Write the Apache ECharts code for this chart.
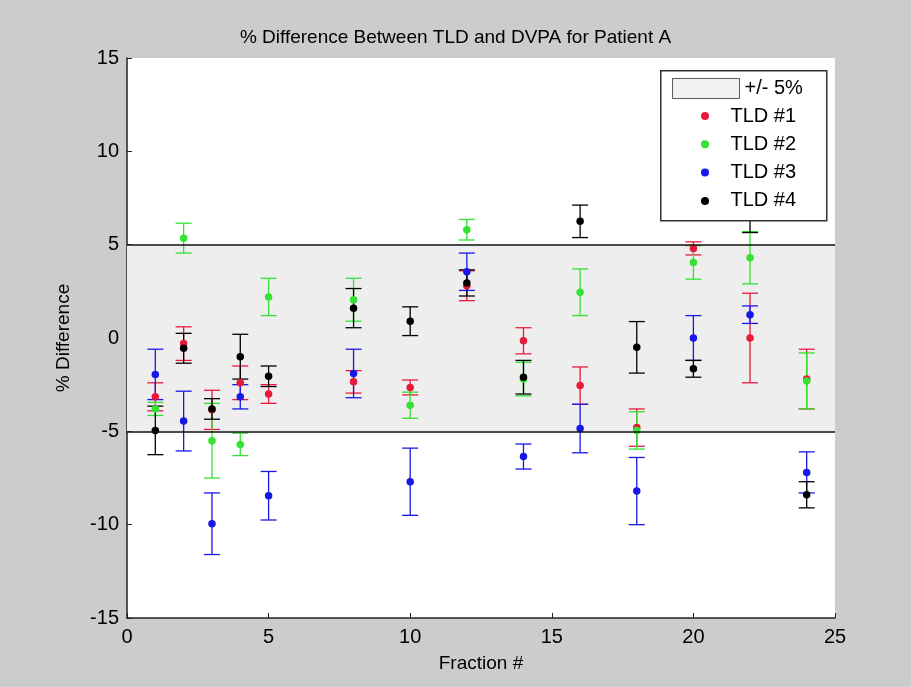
<!DOCTYPE html>
<html>
<head>
<meta charset="utf-8">
<script src="https://cdn.jsdelivr.net/npm/echarts@6/dist/echarts.min.js"></script>
</head>
<body style="margin:0">
<div id="container" style="width:911px;height:687px"></div>
<script type="text/javascript">
// fractions where the four TLDs were read
var fractions = [1, 2, 3, 4, 5, 8, 10, 12, 14, 16, 18, 20, 22, 24];

var tld1 = [-3.15, -0.3, -3.85, -2.4, -3.0, -2.35, -2.65, 2.8, -0.15, -2.55, -4.8, 4.8, 0.0, -2.2];
var tld1Err = [0.75, 0.9, 1.05, 0.9, 0.5, 0.6, 0.4, 0.8, 0.7, 1.0, 1.0, 0.35, 2.4, 1.6];

var tld2 = [-3.8, 5.35, -5.5, -5.7, 2.2, 2.05, -3.6, 5.8, -2.2, 2.45, -4.95, 4.05, 4.3, -2.3];
var tld2Err = [0.35, 0.8, 2.0, 0.6, 1.0, 1.15, 0.7, 0.55, 0.9, 1.25, 1.0, 0.9, 1.4, 1.5];

var tld3 = [-1.95, -4.45, -9.95, -3.15, -8.45, -1.9, -7.7, 3.55, -6.35, -4.85, -8.2, 0.0, 1.25, -7.2];
var tld3Err = [1.35, 1.6, 1.65, 0.65, 1.3, 1.3, 1.8, 1.0, 0.67, 1.3, 1.8, 1.2, 0.47, 1.1];

var tld4 = [-4.95, -0.55, -3.8, -1.0, -2.05, 1.6, 0.9, 2.95, -2.1, 6.25, -0.5, -1.65, 6.6, -8.4];
var tld4Err = [1.3, 0.8, 0.55, 1.2, 0.55, 1.05, 0.77, 0.7, 0.9, 0.87, 1.38, 0.45, 0.95, 0.7];

var bandLimits = [-5, 5];
var xTicks = [0, 25, 5];
var yTicks = [-15, 15, 5];

var names = ['TLD #1', 'TLD #2', 'TLD #3', 'TLD #4'];
var colors = ['#e81a3c', '#33e233', '#1717e6', '#000000'];
var values = [tld1, tld2, tld3, tld4];
var errs = [tld1Err, tld2Err, tld3Err, tld4Err];

var font = 'Liberation Sans, Arial, sans-serif';

function renderErr(params, api) {
	var x = api.value(0);
	var lo = api.coord([x, api.value(1)]);
	var hi = api.coord([x, api.value(2)]);
	var w = 8;
	var style = { stroke: api.visual('color'), lineWidth: 1.3 };
	return {
		type: 'group',
		children: [
			{ type: 'line', shape: { x1: lo[0], y1: lo[1], x2: hi[0], y2: hi[1] }, style: style },
			{ type: 'line', shape: { x1: lo[0] - w, y1: lo[1], x2: lo[0] + w, y2: lo[1] }, style: style },
			{ type: 'line', shape: { x1: hi[0] - w, y1: hi[1], x2: hi[0] + w, y2: hi[1] }, style: style }
		]
	};
}

var series = [{
	name: '+/- 5%',
	type: 'scatter',
	data: [],
	symbolSize: 0,
	itemStyle: { color: '#eeeeee', borderColor: '#333', borderWidth: 1 },
	markArea: {
		silent: true,
		label: { show: false },
		itemStyle: { color: '#eeeeee' },
		data: [[{ yAxis: bandLimits[0] }, { yAxis: bandLimits[1] }]]
	},
	markLine: {
		silent: true,
		symbol: ['none', 'none'],
		label: { show: false },
		emphasis: { disabled: true },
		lineStyle: { color: '#111', width: 1.5, type: 'solid' },
		data: [{ yAxis: bandLimits[0] }, { yAxis: bandLimits[1] }]
	}
}];

for (var s = 0; s < 4; s++) {
	var errData = [];
	var ptData = [];
	for (var i = 0; i < fractions.length; i++) {
		errData.push([fractions[i], values[s][i] - errs[s][i], values[s][i] + errs[s][i]]);
		ptData.push([fractions[i], values[s][i]]);
	}
	series.push({
		name: names[s],
		type: 'custom',
		renderItem: renderErr,
		itemStyle: { color: colors[s] },
		encode: { x: 0, y: [1, 2] },
		data: errData,
		z: 3
	});
	series.push({
		name: names[s],
		type: 'scatter',
		symbolSize: 7.5,
		itemStyle: { color: colors[s], opacity: 1 },
		data: ptData,
		z: 3
	});
}

var myChart = echarts.init(document.getElementById('container'));
var option = {
	animation: false,
	backgroundColor: '#cccccc',
	textStyle: { fontFamily: font },
	title: {
		text: '% Difference Between TLD and DVPA for Patient A',
		left: 'center',
		top: 23,
		textStyle: { fontFamily: font, fontSize: 19, fontWeight: 'normal', color: '#000' }
	},
	grid: { left: 127, top: 58, width: 708, height: 560, show: true, backgroundColor: '#ffffff', borderWidth: 0 },
	xAxis: {
		type: 'value',
		min: xTicks[0], max: xTicks[1], interval: xTicks[2],
		name: 'Fraction #',
		nameLocation: 'middle',
		nameGap: 36,
		nameTextStyle: { fontFamily: font, fontSize: 19, color: '#000' },
		axisLine: { onZero: false, lineStyle: { color: '#222', width: 1.5 } },
		axisTick: { inside: true, length: 5, lineStyle: { color: '#222' } },
		axisLabel: { fontFamily: font, fontSize: 20, color: '#000', margin: 9 },
		splitLine: { show: false }
	},
	yAxis: {
		type: 'value',
		min: yTicks[0], max: yTicks[1], interval: yTicks[2],
		name: '% Difference',
		nameLocation: 'middle',
		nameGap: 54,
		nameTextStyle: { fontFamily: font, fontSize: 19, color: '#000' },
		axisLine: { onZero: false, lineStyle: { color: '#222', width: 1.5 } },
		axisTick: { inside: true, length: 5, lineStyle: { color: '#222' } },
		axisLabel: { fontFamily: font, fontSize: 20, color: '#000', margin: 8 },
		splitLine: { show: false }
	},
	graphic: {
		elements: [{
			type: 'rect',
			left: 660, top: 70,
			z: 10,
			shape: { width: 166, height: 150 },
			style: { fill: '#ffffff', stroke: '#333', lineWidth: 1.5 }
		}]
	},
	legend: [{
		data: ['+/- 5%'],
		left: 672, top: 78,
		z: 20,
		icon: 'rect',
		itemWidth: 67, itemHeight: 20,
		symbolKeepAspect: false,
		padding: 0,
		selectedMode: false,
		itemStyle: { borderColor: '#333', borderWidth: 1 },
		textStyle: { fontFamily: font, fontSize: 20, color: '#000', lineHeight: 20 }
	}, {
		data: names,
		left: 701, top: 106,
		z: 20,
		orient: 'vertical',
		icon: 'circle',
		itemWidth: 41, itemHeight: 8,
		symbolKeepAspect: true,
		itemGap: 8.3,
		padding: 0,
		selectedMode: false,
		textStyle: { fontFamily: font, fontSize: 20, color: '#000', lineHeight: 20 }
	}],
	series: series
};
myChart.setOption(option);
</script>
</body>
</html>
